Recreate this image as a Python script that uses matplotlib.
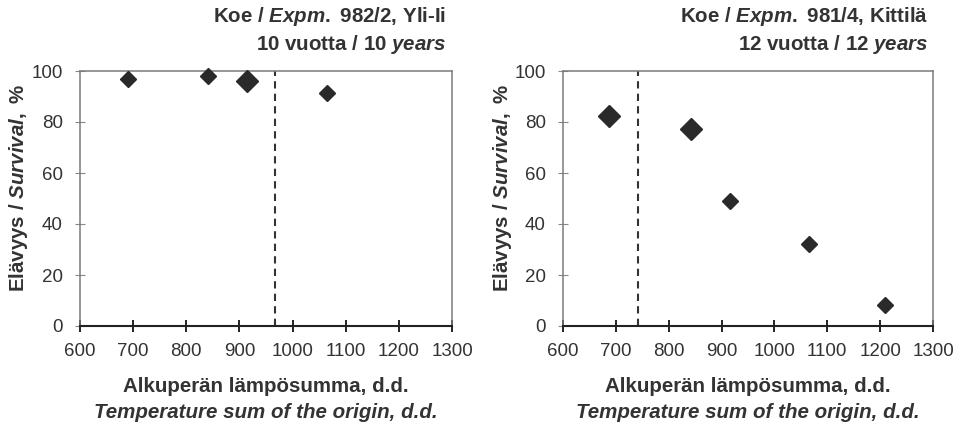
import matplotlib
matplotlib.use("Agg")
import matplotlib.pyplot as plt

plt.rcParams['font.family'] = ['Liberation Sans', 'DejaVu Sans']
plt.rcParams['mathtext.fontset'] = 'custom'
plt.rcParams['mathtext.rm'] = 'Liberation Sans:bold'
plt.rcParams['mathtext.bf'] = 'Liberation Sans:bold'
plt.rcParams['mathtext.it'] = 'Liberation Sans:italic:bold'

# Left panel: Expm. 982/2, Yli-Ii
left_x = [690, 840, 915, 1065]
left_y = [96.7, 98.0, 96.2, 91.5]
left_big = [False, False, True, False]
left_site = 967

# Right panel: Expm. 981/4, Kittilä
right_x = [687, 843, 916, 1065, 1210]
right_y = [82.3, 77.1, 49.1, 32.3, 8.4]
right_big = [True, True, False, False, False]
right_site = 742

xticks = [600, 700, 800, 900, 1000, 1100, 1200, 1300]
yticks = [0, 20, 40, 60, 80, 100]

titles = [
    (r"$\text{Koe / }\mathit{Expm.}\text{ 982/2, Yli-Ii}$",
     r"$\text{10 vuotta / 10 }\mathit{years}$"),
    (r"$\text{Koe / }\mathit{Expm.}\text{ 981/4, Kittilä}$",
     r"$\text{12 vuotta / 12 }\mathit{years}$"),
]
ylabel = r"$\text{Elävyys / }\mathit{Survival,}\text{ %}$"
xlabel1 = "Alkuperän lämpösumma, d.d."
xlabel2 = "Temperature sum of the origin, d.d."

W, H = 964, 429
fig = plt.figure(figsize=(W / 100, H / 100), dpi=100)

panels = [
    (left_x, left_y, left_big, left_site, 80, 452, 446),
    (right_x, right_y, right_big, right_site, 563, 933, 928),
]

mcol = '#2a2a2a'
tcol = '#333333'
fs = 14.8
for i, (xs, ys, big, site, x0, x1, tx) in enumerate(panels):
    top, bot = 71, 326
    ax = fig.add_axes([x0 / W, 1 - bot / H, (x1 - x0) / W, (bot - top) / H])
    ax.set_xlim(600, 1300)
    ax.set_ylim(0, 100)
    for xv, yv, b in zip(xs, ys, big):
        ax.plot([xv], [yv], marker='D', markersize=11.5 if b else 7.8,
                color=mcol, markeredgecolor=mcol, linestyle='none',
                clip_on=False, zorder=3)
    ax.axvline(site, color='#333333', linestyle=(0, (3.5, 2.5)), linewidth=1.5)
    ax.set_xticks(xticks)
    ax.set_yticks(yticks)
    ax.tick_params(axis='x', direction='inout', length=9, width=1.4,
                   color='#222222', labelsize=13.5, labelcolor=tcol, pad=8)
    ax.tick_params(axis='y', direction='inout', length=7, width=0.8,
                   color='#888888', labelsize=13.5, labelcolor=tcol, pad=9)
    for s in ['top', 'right', 'left']:
        ax.spines[s].set_color('#7a7a7a')
        ax.spines[s].set_linewidth(1.1)
    ax.spines['bottom'].set_color('#222222')
    ax.spines['bottom'].set_linewidth(1.5)
    ax.spines['bottom'].set_zorder(4)

    cx = (x0 + x1) / 2 / W
    fig.text(cx, 1 - 387 / H, xlabel1, ha='center', va='center',
             fontsize=fs, fontweight='bold', color=tcol)
    fig.text(cx, 1 - 413 / H, xlabel2, ha='center', va='center',
             fontsize=fs, fontweight='bold', fontstyle='italic', color=tcol)
    fig.text((x0 - 61) / W, 1 - 188 / H, ylabel, ha='center', va='center',
             rotation=90, fontsize=fs, color=tcol)
    t1, t2 = titles[i]
    fig.text(tx / W, 1 - 16 / H, t1, ha='right', va='center',
             fontsize=fs, color=tcol)
    fig.text(tx / W, 1 - 44 / H, t2, ha='right', va='center',
             fontsize=fs, color=tcol)

fig.savefig('out.png', dpi=100)
